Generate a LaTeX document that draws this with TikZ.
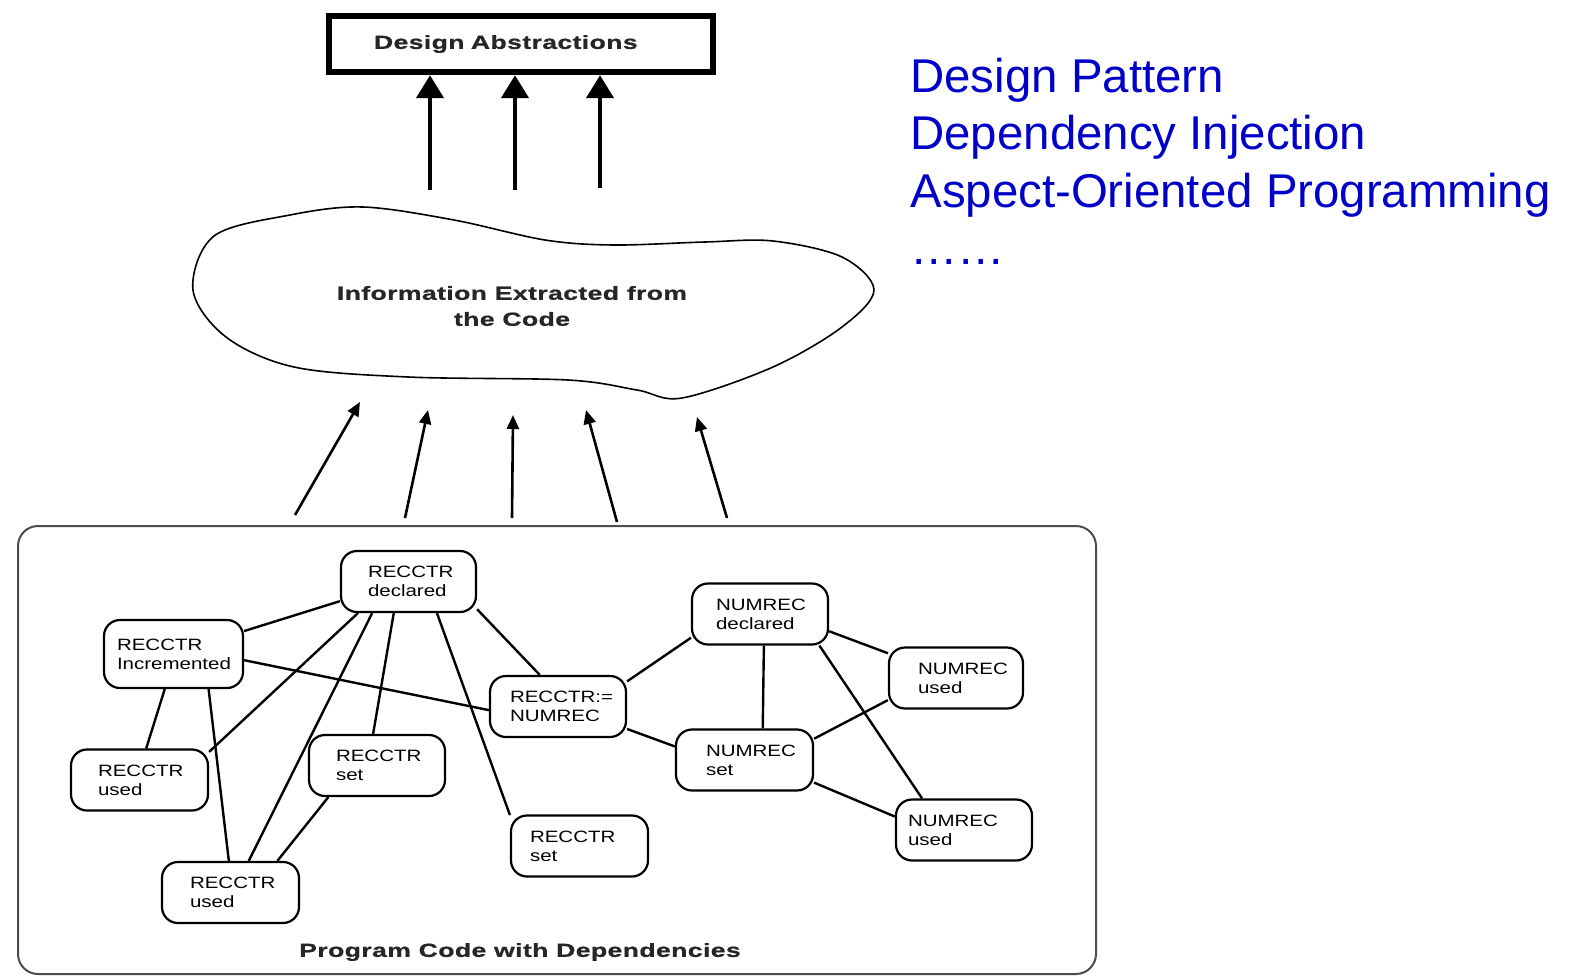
\documentclass[tikz,border=0pt]{standalone}
\usepackage{fontspec}
\setmainfont{Liberation Sans}
\newfontfamily\nodefont[FakeStretch=1.25]{Liberation Sans}
\newfontfamily\headfont[FakeStretch=1.4,LetterSpace=2,FakeBold=0.8]{Liberation Sans Bold}
\usetikzlibrary{arrows.meta}
\definecolor{topicblue}{RGB}{0,0,200}
\hyphenpenalty=10000
\begin{document}
\begin{tikzpicture}[x=0.5pt, y=-0.5pt,
  code/.style={draw, line width=1.1pt, rounded corners=8pt, align=left,
    font=\nodefont\fontsize{8.2}{9.5}\selectfont, minimum height=30.5pt, inner ysep=0pt},
  dep/.style={line width=1.2pt},
  head/.style={font=\headfont\fontsize{9.5}{13}\selectfont, align=center, text=black!85},
  lift/.style={line width=1.3pt, -{Triangle[length=7pt,width=6pt]}},
  bigup/.style={line width=2.2pt, -{Triangle[length=11.5pt,width=13.5pt]}},
  topic/.style={anchor=base west, inner sep=0pt, text=topicblue,
    font=\fontsize{23.7}{28.75}\selectfont}]
\useasboundingbox (0,0) rectangle (1575,980);

% top box
\node[head, draw=black, line width=3.2pt, minimum width=192pt, minimum height=28pt,
  align=left, text width=147pt, inner xsep=22.5pt] (abs) at (521,44) {Design Abstractions};

% cloud
\draw[line width=0.8pt] plot[smooth cycle, tension=0.55] coordinates {
  (214,236) (290,215) (363,207) (454,220) (545,240) (614,245) (705,242) (773,241)
  (842,257) (874,290) (842,327) (773,367) (682,398) (637,390) (568,380) (408,377)
  (294,367) (226,337) (193,290)};
\node[head] (info) at (512,306) {Information Extracted from\\the Code};

\coordinate (t1) at (430,190);
\coordinate (t2) at (515,190);
\coordinate (t3) at (600,188);
\draw[bigup] (t1) -- ([xshift=-45.5pt]abs.south);
\draw[bigup] (t2) -- ([xshift=-3pt]abs.south);
\draw[bigup] (t3) -- ([xshift=39.5pt]abs.south);

% program code
\node[draw=black!70, line width=1pt, rounded corners=10pt, minimum width=539pt,
  minimum height=224pt] (prog) at (557,750) {};
\node[head] (progl) at (520,952) {Program Code with Dependencies};

\coordinate (h1) at (360,402);
\coordinate (h2) at (428,410);
\coordinate (h3) at (513,415);
\coordinate (h4) at (586,410);
\coordinate (h5) at (697,417);
\foreach \dx/\dy/\h in {-262/-10/h1, -152/-7/h2, -45/-7/h3, 60/-3/h4, 170/-7/h5}
  \draw[lift] ([shift={(\dx,\dy)}]prog.north) -- (\h);

\node[code, text width=40.5pt, inner xsep=13.5pt] (decl) at (408.5,581.5) {RECCTR\\declared};
\node[code, text width=56.5pt, inner xsep=6.5pt, minimum height=34pt] (incr) at (173.5,654) {RECCTR\\Incremented};
\node[code, text width=41.5pt, inner xsep=13.5pt] (used1) at (139.5,780) {RECCTR\\used};
\node[code, text width=40.5pt, inner xsep=14pt] (used2) at (230.5,892.5) {RECCTR\\used};
\node[code, text width=41pt, inner xsep=13.5pt] (set1) at (377,765.5) {RECCTR\\set};
\node[code, text width=49.5pt, inner xsep=9.5pt] (set2) at (579.5,846) {RECCTR\\set};
\node[code, text width=48pt, inner xsep=10pt] (assign) at (558,706.5) {RECCTR:=\\NUMREC};
\node[code, text width=44pt, inner xsep=12pt] (ndecl) at (760,614) {NUMREC\\declared};
\node[code, text width=38pt, inner xsep=14.5pt] (nused1) at (956,678) {NUMREC\\used};
\node[code, text width=38.5pt, inner xsep=15pt] (nset) at (744.5,760) {NUMREC\\set};
\node[code, text width=56pt, inner xsep=6pt] (nused2) at (964,830) {NUMREC\\used};

\draw[dep] (decl.196) -- (incr.18);
\draw[dep] (decl.212) -- (used1.22);
\draw[dep] (decl.221) -- (used2.60);
\draw[dep] (decl.245) -- (set1.97);
\draw[dep] (decl.312) -- (set2.156);
\draw[dep] (decl.338) -- (assign.120);
\draw[dep] (incr.355) -- (assign.183);
\draw[dep] (incr.256) -- (used1.78);
\draw[dep] (incr.315) -- (used2.93);
\draw[dep] (set1.213) -- (used2.34);
\draw[dep] (assign.20) -- (ndecl.199);
\draw[dep] (assign.342) -- (nset.169);
\draw[dep] (ndecl.277) -- (nset.60);
\draw[dep] (ndecl.346) -- (nused1.160);
\draw[dep] (ndecl.332) -- (nused2.143);
\draw[dep] (nset.17) -- (nused1.198);
\draw[dep] (nset.342) -- (nused2.169);

% topics
\foreach \t [count=\i] in {Design Pattern, Dependency Injection, Aspect-Oriented Programming, ……}
  \node[topic] (topic\i) at (910,{92+57.5*(\i-1)}) {\t};
\end{tikzpicture}
\end{document}
